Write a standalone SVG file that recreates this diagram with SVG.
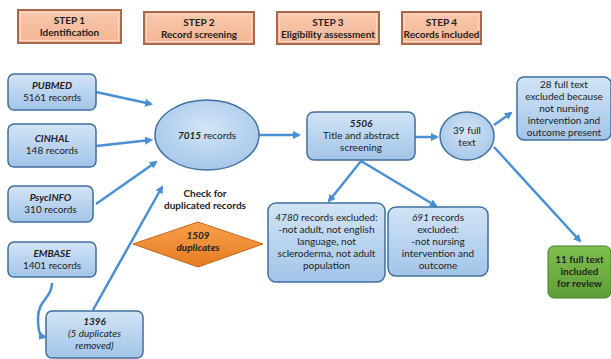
<svg xmlns="http://www.w3.org/2000/svg" width="611" height="359" viewBox="0 0 611 359">
<defs>
<linearGradient id="gBlue" x1="0" y1="0" x2="0" y2="1">
<stop offset="0" stop-color="#d2e4f6"/><stop offset="0.6" stop-color="#b5d1ee"/><stop offset="1" stop-color="#a3c4e8"/>
</linearGradient>
<radialGradient id="gEll" cx="0.5" cy="0.4" r="0.6">
<stop offset="0" stop-color="#d3e5f7"/><stop offset="1" stop-color="#a7c7e9"/>
</radialGradient>
<linearGradient id="gStep" x1="0" y1="0" x2="0" y2="1">
<stop offset="0" stop-color="#f9c9ad"/><stop offset="1" stop-color="#f4b494"/>
</linearGradient>
<linearGradient id="gOr" x1="0" y1="0" x2="0" y2="1">
<stop offset="0" stop-color="#f7a14a"/><stop offset="1" stop-color="#e67b22"/>
</linearGradient>
<linearGradient id="gGr" x1="0" y1="0" x2="0" y2="1">
<stop offset="0" stop-color="#80c050"/><stop offset="1" stop-color="#5f9e37"/>
</linearGradient>
<marker id="ah" markerWidth="8" markerHeight="8" refX="6" refY="4" orient="auto" markerUnits="userSpaceOnUse">
<path d="M0,0 L8,4 L0,8 Z" fill="#4a8fd4"/>
</marker>
<style>
text{font-family:Lato,"Liberation Sans",sans-serif;font-size:10px;fill:#222;text-anchor:middle}
.b{font-weight:bold}
.i{font-style:italic}
.box{fill:url(#gBlue);stroke:#3f6f9f;stroke-width:1.5}
.step{fill:url(#gStep);stroke:#a86a4a;stroke-width:2}
.stepin{fill:none;stroke:#fbd9c4;stroke-width:1}
.con{stroke:#4a8fd4;stroke-width:2.5;fill:none;marker-end:url(#ah)}
</style>
</defs>

<g id="step1"><rect class="step" x="18" y="10" width="103" height="33"/><rect class="stepin" x="20.5" y="12.5" width="98" height="28"/><text class="b" x="69.5" y="24">STEP 1</text><text class="b" x="69.5" y="36">Identification</text></g>
<g id="step2"><rect class="step" x="144" y="12" width="110" height="32"/><rect class="stepin" x="146.5" y="14.5" width="105" height="27"/><text class="b" x="199" y="26">STEP 2</text><text class="b" x="199" y="38">Record screening</text></g>
<g id="step3"><rect class="step" x="277" y="12" width="102" height="32"/><rect class="stepin" x="279.5" y="14.5" width="97" height="27"/><text class="b" x="328" y="26">STEP 3</text><text class="b" x="328" y="38">Eligibility assessment</text></g>
<g id="step4"><rect class="step" x="402" y="12" width="79" height="32"/><rect class="stepin" x="404.5" y="14.5" width="74" height="27"/><text class="b" x="441.5" y="26">STEP 4</text><text class="b" x="441.5" y="38">Records included</text></g>

<g id="connectors">
<line class="con" x1="96" y1="92" x2="151" y2="104"/>
<line class="con" x1="96" y1="146" x2="151" y2="140"/>
<line class="con" x1="96" y1="204" x2="156" y2="162"/>
<line class="con" x1="93" y1="310" x2="162" y2="187"/>
<path class="con" d="M52,283 C52,298 38,300 38,318 C38,332 40,336 45,337"/>
<line class="con" x1="259" y1="135" x2="299" y2="135"/>
<line class="con" x1="415" y1="137" x2="437" y2="137"/>
<line class="con" x1="494" y1="125" x2="511" y2="113"/>
<line class="con" x1="494" y1="147" x2="580" y2="241"/>
<line class="con" x1="361" y1="161" x2="329" y2="201"/>
<line class="con" x1="361" y1="161" x2="436" y2="206"/>
</g>

<g id="pubmed"><rect class="box" x="8" y="74" width="88" height="36" rx="6"/><text class="b i" x="52" y="89">PUBMED</text><text x="52" y="101">5161 records</text></g>
<g id="cinhal"><rect class="box" x="8" y="124" width="88" height="43" rx="6"/><text class="b i" x="52" y="142">CINHAL</text><text x="52" y="154">148 records</text></g>
<g id="psycinfo"><rect class="box" x="8" y="186" width="85" height="36" rx="6"/><text class="b i" x="50.5" y="201">PsycINFO</text><text x="50.5" y="213">310 records</text></g>
<g id="embase"><rect class="box" x="8" y="242" width="88" height="35" rx="6"/><text class="b i" x="52" y="257">EMBASE</text><text x="52" y="269">1401 records</text></g>
<g id="n1396"><rect class="box" x="46" y="311" width="97" height="47" rx="6"/><text class="b i" x="94.5" y="325">1396</text><text class="i" x="94.5" y="337">(5 duplicates</text><text class="i" x="94.5" y="349">removed)</text></g>

<g id="n7015"><ellipse cx="207" cy="135" rx="52" ry="35" fill="url(#gEll)" stroke="#3f6f9f" stroke-width="1.5"/><text x="207" y="139"><tspan class="b i">7015</tspan> records</text></g>
<g id="check"><text class="b" x="205" y="197">Check for</text><text class="b" x="205" y="209">duplicated records</text></g>
<g id="dup"><polygon points="133,244 198,222 263,244 198,267" fill="url(#gOr)" stroke="#c8641a" stroke-width="1"/><text class="b i" x="198" y="239">1509</text><text class="b i" x="198" y="251">duplicates</text></g>

<g id="n5506"><rect class="box" x="307" y="112" width="108" height="48" rx="7"/><text class="b i" x="361" y="127">5506</text><text x="361" y="139">Title and abstract</text><text x="361" y="151">screening</text></g>
<g id="n39"><ellipse cx="467" cy="136" rx="27" ry="24" fill="url(#gEll)" stroke="#3f6f9f" stroke-width="1.5"/><text x="467" y="134">39 full</text><text x="467" y="146">text</text></g>
<g id="n28"><rect class="box" x="517" y="77" width="94" height="63" rx="7"/><text x="564" y="88">28 full text</text><text x="564" y="100">excluded because</text><text x="564" y="112">not nursing</text><text x="564" y="124">intervention and</text><text x="564" y="136">outcome present</text></g>
<g id="n4780"><rect class="box" x="268" y="203" width="117" height="79" rx="8"/><text x="326.5" y="221"><tspan class="i">4780</tspan> records excluded:</text><text x="326.5" y="233">-not adult, not english</text><text x="326.5" y="245">language, not</text><text x="326.5" y="257">scleroderma, not adult</text><text x="326.5" y="269">population</text></g>
<g id="n691"><rect class="box" x="388" y="207" width="100" height="69" rx="8"/><text x="438" y="221"><tspan class="i">691</tspan> records</text><text x="438" y="233">excluded:</text><text x="438" y="245">-not nursing</text><text x="438" y="257">intervention and</text><text x="438" y="269">outcome</text></g>
<g id="n11"><rect x="548" y="246" width="63" height="52" rx="6" fill="url(#gGr)" stroke="#4a7d2a" stroke-width="1"/><text class="b" x="579.5" y="263">11 full text</text><text class="b" x="579.5" y="275">included</text><text class="b" x="579.5" y="287">for review</text></g>
</svg>
